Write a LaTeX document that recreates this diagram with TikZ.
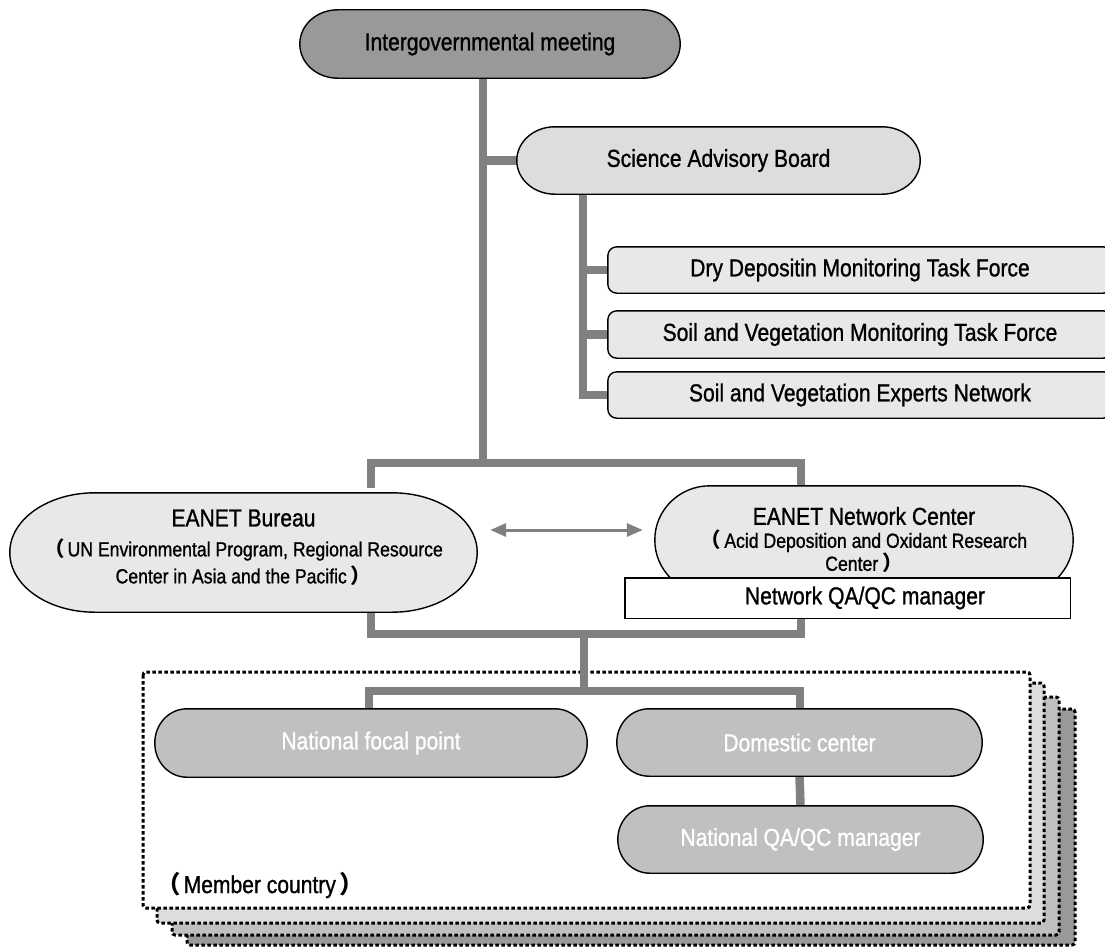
\documentclass[tikz,border=0pt]{standalone}
\usepackage{fontspec}
\setmainfont{Liberation Sans}[FakeStretch=0.86, BoldFont={Liberation Sans}, BoldFeatures={FakeBold=1.0}]
\newfontfamily\cjk{Noto Sans CJK JP}
\usetikzlibrary{calc,arrows.meta}
\pgfdeclarelayer{frames}
\pgfdeclarelayer{lines}
\pgfdeclarelayer{shapes}
\pgfsetlayers{frames,lines,shapes,main}
\definecolor{linegray}{HTML}{808080}
\definecolor{darkfill}{HTML}{999999}
\definecolor{sabfill}{HTML}{DDDDDD}
\definecolor{lightfill}{HTML}{E8E8E8}
\definecolor{nodefill}{HTML}{C0C0C0}
\definecolor{layerA}{HTML}{DDDDDD}
\definecolor{layerB}{HTML}{C0C0C0}
\definecolor{layerC}{HTML}{999999}
\newcommand\myLP{{\cjk\bfseries （}\hspace{3pt}}
\newcommand\myRP{\hspace{4pt}{\cjk\bfseries ）}}
% stadium-like outline with elliptical ends round node #1, shifted down by #4
\newcommand\stad[4]{($(#1.north west)+(#2,-#4)$) -- ($(#1.north east)+(-#2,-#4)$)
  arc[start angle=90,end angle=0,x radius=#2,y radius=#3] -- ($(#1.south east)+(0,#3-#4)$)
  arc[start angle=0,end angle=-90,x radius=#2,y radius=#3] -- ($(#1.south west)+(#2,-#4)$)
  arc[start angle=270,end angle=180,x radius=#2,y radius=#3] -- ($(#1.north west)+(0,-#3-#4)$)
  arc[start angle=180,end angle=90,x radius=#2,y radius=#3] -- cycle}
\begin{document}
\begin{tikzpicture}[x=1pt,y=1pt,
  conn/.style={draw=linegray, line width=8.5pt},
  shp/.style={draw=black, line width=1.4pt},
  txt/.style={font=\fontsize{24.5}{28}\selectfont\bfseries, align=center, inner sep=0pt},
  subtxt/.style={font=\fontsize{20.5}{27}\selectfont\bfseries, align=center, inner sep=0pt},
  whitetxt/.style={txt, text=white},
  dotframe/.style={draw=black, line width=3pt, dash pattern=on 3.5pt off 2.5pt, rounded corners=3pt},
  arr/.style={draw=linegray, line width=3pt, {Triangle[length=16pt,width=13pt]}-{Triangle[length=16pt,width=13pt]}}]
\useasboundingbox (0,0) rectangle (1105,-950);

% nodes
\node[txt, minimum width=380pt, minimum height=68pt] (igm) at (490,-44) {Intergovernmental meeting};
\node[txt, minimum width=403pt, minimum height=67pt] (sab) at (718.5,-160.5) {Science Advisory Board};
\node[txt, minimum width=504pt, minimum height=46pt] (tf1) at (860,-270) {Dry Depositin Monitoring Task Force};
\node[txt, minimum width=504pt, minimum height=47pt] (tf2) at (860,-334.5) {Soil and Vegetation Monitoring Task Force};
\node[txt, minimum width=504pt, minimum height=46pt] (tf3) at (860,-395) {Soil and Vegetation Experts Network};
\node[subtxt, minimum width=467pt, minimum height=119pt] (bureau) at (243.5,-547.5)
  {{\fontsize{24.5}{26}\selectfont EANET Bureau}\\[3pt]\myLP UN Environmental Program, Regional Resource\\Center in Asia and the Pacific\myRP};
\node[subtxt, font=\fontsize{20.5}{23}\selectfont\bfseries, minimum width=418pt, minimum height=108pt] (center) at (864,-540)
  {{\fontsize{24.5}{23}\selectfont EANET Network Center}\\\myLP Acid Deposition and Oxidant Research\\Center\myRP};
\node[txt, minimum width=445pt, minimum height=40pt] (qa) at (865,-598) {Network QA/QC manager};
\node[whitetxt, minimum width=432pt, minimum height=68pt] (nfp) at (371,-743) {National focal point};
\node[whitetxt, minimum width=365pt, minimum height=67pt] (dom) at (799.5,-742.5) {Domestic center};
\node[whitetxt, minimum width=365pt, minimum height=67pt] (nqa) at (800.5,-839.5) {National QA/QC manager};
\node[txt, anchor=west] (member) at (156,-885) {\myLP Member country\myRP};

% junction points
\coordinate (jt) at (483,-463);
\coordinate (bl) at (371,-463);
\coordinate (br) at (801,-463);
\coordinate (sx) at (583,-300);
\coordinate (bb) at (584,-634);
\coordinate (bbl) at (371,-634);
\coordinate (bbr) at (801,-634);
\coordinate (cb) at (584,-691);
\coordinate (cl) at (369,-691);
\coordinate (cr) at (800,-691);

% member-country frames
\begin{pgfonlayer}{frames}
\path[dotframe, fill=layerC] (187,-709) rectangle (1075,-945);
\path[dotframe, fill=layerB] (172,-697) rectangle (1059,-935);
\path[dotframe, fill=layerA] (157,-683) rectangle (1044,-923);
\path[dotframe, fill=white] (143,-672) rectangle (1030,-908);
\end{pgfonlayer}

% shapes
\begin{pgfonlayer}{shapes}
\path[shp, fill=darkfill] \stad{igm}{38}{34}{0};
\path[shp, fill=sabfill] \stad{sab}{38}{33.5}{0};
\path[shp, fill=lightfill, rounded corners=9pt] (tf1.north west) rectangle (tf1.south east);
\path[shp, fill=lightfill, rounded corners=9pt] (tf2.north west) rectangle (tf2.south east);
\path[shp, fill=lightfill, rounded corners=9pt] (tf3.north west) rectangle (tf3.south east);
\path[shp, fill=lightfill] \stad{bureau}{85}{59.5}{5};
\path[shp, fill=lightfill] \stad{center}{55}{54}{0};
\path[shp, fill=white] ($(qa.north west)+(-17.5,0)$) rectangle ($(qa.south east)+(-17.5,0)$);
\path[shp, fill=nodefill] \stad{nfp}{32}{34}{0};
\path[shp, fill=nodefill] \stad{dom}{32}{33.5}{0};
\path[shp, fill=nodefill] \stad{nqa}{32}{33.5}{0};
\end{pgfonlayer}

% connectors
\begin{pgfonlayer}{lines}
\draw[conn] (igm.south -| jt) -- (jt);
\draw[conn] (sab.west -| jt) -- (sab.west);
\draw[conn] (bureau.north -| bl) -- (bl) -- (br) -- (center.north -| br);
\draw[conn] (sab.south -| sx) -- (tf3.west -| sx) -- (tf3.west);
\draw[conn] (tf1.west -| sx) -- (tf1.west);
\draw[conn] (tf2.west -| sx) -- (tf2.west);
\draw[conn] ($(bureau.south -| bbl)+(0,-5)$) -- (bbl) -- (bbr) -- (qa.south -| bbr);
\draw[conn] (bb) -- (cb);
\draw[conn] (nfp.north -| cl) -- (cl) -- (cr) -- (dom.north -| cr);
\draw[conn] (dom.south) -- (nqa.north);
\end{pgfonlayer}

\draw[arr] ($(bureau.east)+(13,17.5)$) -- ($(center.west |- bureau.east)+(-12,17.5)$);
\end{tikzpicture}
\end{document}
